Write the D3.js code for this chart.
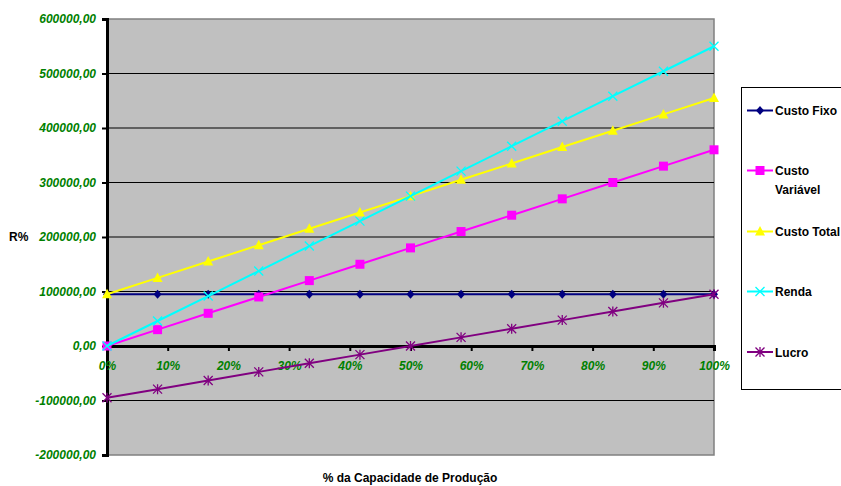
<!DOCTYPE html>
<html><head><meta charset="utf-8">
<script src="https://cdn.jsdelivr.net/npm/d3@7"></script>
<style>
html,body{margin:0;padding:0;background:#fff;}
svg{display:block;font-family:Arial,"Liberation Sans",sans-serif;}
</style></head>
<body><svg id="c" width="841" height="486"></svg>
<script>
// ---- data ----
const capacity = [0, 8.33, 16.67, 25, 33.33, 41.67, 50, 58.33, 66.67, 75, 83.33, 91.67, 100];
const custoFixo = [95000,95000,95000,95000,95000,95000,95000,95000,95000,95000,95000,95000,95000];
const custoVariavel = [0,30000,60000,90000,120000,150000,180000,210000,240000,270000,300000,330000,360000];
const custoTotal = [95000,125000,155000,185000,215000,245000,275000,305000,335000,365000,395000,425000,455000];
const renda = [0,45833,91667,137500,183333,229167,275000,320833,366667,412500,458333,504167,550000];
const lucro = [-95000,-79167,-63333,-47500,-31667,-15833,0,15833,31667,47500,63333,79167,95000];
const seriesNames = ["Custo Fixo", "Custo Variável", "Custo Total", "Renda", "Lucro"];
const yTicks = [-200000,-100000,0,100000,200000,300000,400000,500000,600000];
const xTicks = [0,10,20,30,40,50,60,70,80,90,100];

const seriesData = [custoFixo, custoVariavel, custoTotal, renda, lucro];
const colors = ["#000080", "#FF00FF", "#FFFF00", "#00FFFF", "#800080"];
const markers = ["diamond", "square", "triangle", "x", "star"];

const loc = d3.formatLocale({decimal: ",", thousands: ".", grouping: [3], currency: ["", ""], minus: "-"});
const fmtY = loc.format(".2f");

const svg = d3.select("#c");
const L = 107, R = 714, T = 19, B = 455;
const x = d3.scaleLinear().domain([0, 100]).range([L, R]);
const y = d3.scaleLinear().domain([-200000, 600000]).range([B, T]);

// plot area
svg.append("rect").attr("x", L).attr("y", T).attr("width", R - L).attr("height", B - T)
  .attr("fill", "#C0C0C0").attr("stroke", "#808080").attr("stroke-width", 1.5);

// gridlines
svg.append("g").selectAll("line").data(yTicks.filter(v => v !== 0 && v !== 600000 && v !== -200000))
  .join("line").attr("x1", L).attr("x2", R)
  .attr("y1", d => y(d)).attr("y2", d => y(d))
  .attr("stroke", "#000").attr("stroke-width", 1);

// y axis
const yAxis = d3.axisLeft(y).tickValues(yTicks).tickFormat(fmtY).tickSizeOuter(0).tickSize(5).tickPadding(6);
const gy = svg.append("g").attr("transform", `translate(${L},0)`).call(yAxis);
gy.select(".domain").attr("stroke", "#000").attr("stroke-width", 3);
gy.selectAll(".tick line").attr("stroke", "#000").attr("stroke-width", 2);
gy.selectAll("text").attr("fill", "#008000").attr("font-size", 12).attr("font-weight", "bold")
  .attr("font-style", "italic").attr("font-family", "Arial, 'Liberation Sans', sans-serif");

// x axis at y=0
const xAxis = d3.axisBottom(x).tickValues(xTicks).tickFormat(d => d + "%").tickSizeOuter(0).tickSize(5).tickPadding(10);
const gx = svg.append("g").attr("transform", `translate(0,${y(0)})`).call(xAxis);
gx.select(".domain").attr("stroke", "#000").attr("stroke-width", 3);
gx.selectAll(".tick line").attr("stroke", "#000").attr("stroke-width", 2);
gx.selectAll("text").attr("fill", "#008000").attr("font-size", 12).attr("font-weight", "bold")
  .attr("font-style", "italic").attr("font-family", "Arial, 'Liberation Sans', sans-serif");

// marker drawer
function drawMarker(g, type, color, cx, cy) {
  if (type === "diamond") {
    g.append("path").attr("d", `M${cx},${cy-4.5}L${cx+4},${cy}L${cx},${cy+4.5}L${cx-4},${cy}Z`).attr("fill", color);
  } else if (type === "square") {
    g.append("rect").attr("x", cx - 4.5).attr("y", cy - 4.5).attr("width", 9).attr("height", 9).attr("fill", color);
  } else if (type === "triangle") {
    g.append("path").attr("d", `M${cx},${cy-5.5}L${cx+5},${cy+4}L${cx-5},${cy+4}Z`).attr("fill", color);
  } else if (type === "x") {
    g.append("path").attr("d", `M${cx-4.5},${cy-4.5}L${cx+4.5},${cy+4.5}M${cx+4.5},${cy-4.5}L${cx-4.5},${cy+4.5}`)
      .attr("stroke", color).attr("stroke-width", 1.3);
  } else if (type === "star") {
    g.append("path").attr("d", `M${cx-4.5},${cy-4.5}L${cx+4.5},${cy+4.5}M${cx+4.5},${cy-4.5}L${cx-4.5},${cy+4.5}M${cx},${cy-5}L${cx},${cy+5}`)
      .attr("stroke", color).attr("stroke-width", 1.3);
  }
}

// series
const line = d3.line().x((d, i) => x(capacity[i])).y(d => y(d));
seriesData.forEach((vals, si) => {
  const g = svg.append("g");
  g.append("path").attr("d", line(vals)).attr("fill", "none")
    .attr("stroke", colors[si]).attr("stroke-width", 2);
  vals.forEach((v, i) => drawMarker(g, markers[si], colors[si], x(capacity[i]), y(v)));
});

// axis titles
svg.append("text").attr("x", 410).attr("y", 482).attr("text-anchor", "middle")
  .attr("font-size", 12).attr("font-weight", "bold").text("% da Capacidade de Produção");
svg.append("text").attr("x", 9).attr("y", 241)
  .attr("font-size", 12).attr("font-weight", "bold").text("R%");

// legend
const lg = svg.append("g");
lg.append("rect").attr("x", 741.5).attr("y", 87.5).attr("width", 120).attr("height", 302)
  .attr("fill", "#fff").attr("stroke", "#000").attr("stroke-width", 1);
const legendY = [110.5, 170.5, 231.5, 291.5, 352];
seriesNames.forEach((name, i) => {
  const ly = legendY[i];
  lg.append("line").attr("x1", 747).attr("x2", 773).attr("y1", ly).attr("y2", ly)
    .attr("stroke", colors[i]).attr("stroke-width", 2);
  drawMarker(lg, markers[i], colors[i], 760, ly);
  const t = lg.append("text").attr("x", 775).attr("y", ly + 4.5)
    .attr("font-size", 12).attr("font-weight", "bold").attr("fill", "#000");
  if (name === "Custo Variável") {
    t.text("Custo");
    lg.append("text").attr("x", 775).attr("y", ly + 23)
      .attr("font-size", 12).attr("font-weight", "bold").attr("fill", "#000").text("Variável");
  } else {
    t.text(name);
  }
});
</script>
</body></html>
